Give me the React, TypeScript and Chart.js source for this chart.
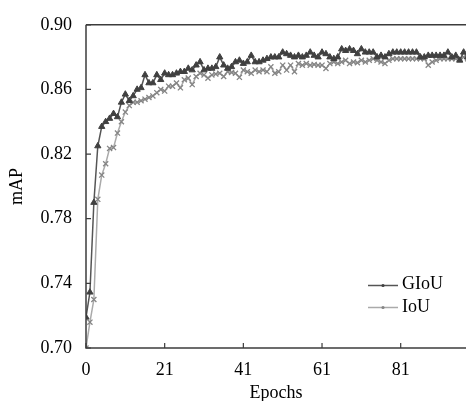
import { useEffect, useRef } from 'react';
import { Chart, registerables } from 'chart.js';

Chart.register(...registerables);

const giou = [
  0.719, 0.7345, 0.790, 0.825, 0.837, 0.840, 0.842, 0.845, 0.843, 0.852,
  0.857, 0.853, 0.856, 0.860, 0.861, 0.869, 0.864, 0.864, 0.869, 0.866,
  0.870, 0.869, 0.869, 0.870, 0.871, 0.871, 0.873, 0.872, 0.875, 0.877,
  0.872, 0.873, 0.873, 0.874, 0.880, 0.875, 0.873, 0.874, 0.877, 0.878,
  0.876, 0.877, 0.881, 0.877, 0.877, 0.878, 0.879, 0.880, 0.880, 0.880,
  0.883, 0.882, 0.881, 0.880, 0.881, 0.880, 0.881, 0.883, 0.881, 0.880,
  0.883, 0.882, 0.880, 0.879, 0.880, 0.885, 0.884, 0.885, 0.884, 0.882,
  0.885, 0.883, 0.883, 0.883, 0.880, 0.881, 0.880, 0.882, 0.883, 0.883,
  0.883, 0.883, 0.883, 0.883, 0.883, 0.880, 0.880, 0.881, 0.881, 0.881,
  0.881, 0.881, 0.883, 0.880, 0.881, 0.878, 0.883, 0.880,
];

const iou = [
  0.700, 0.716, 0.730, 0.792, 0.807, 0.814, 0.8235, 0.824, 0.833, 0.840,
  0.846, 0.850, 0.852, 0.852, 0.853, 0.854, 0.855, 0.856, 0.858, 0.860,
  0.859, 0.862, 0.862, 0.864, 0.861, 0.866, 0.867, 0.863, 0.868, 0.870,
  0.869, 0.867, 0.869, 0.8695, 0.870, 0.868, 0.871, 0.8705, 0.870, 0.8675,
  0.872, 0.871, 0.870, 0.872, 0.871, 0.872, 0.871, 0.874, 0.870, 0.871,
  0.875, 0.872, 0.875, 0.871, 0.876, 0.875, 0.876, 0.875, 0.8755, 0.875,
  0.875, 0.873, 0.876, 0.877, 0.876, 0.877, 0.878, 0.876, 0.877, 0.8765,
  0.878, 0.877, 0.878, 0.879, 0.878, 0.877, 0.876, 0.878, 0.879, 0.879,
  0.879, 0.879, 0.879, 0.879, 0.879, 0.879, 0.879, 0.875, 0.877, 0.878,
  0.879, 0.879, 0.879, 0.879, 0.879, 0.879, 0.880, 0.879,
];

const epochs = giou.map((_, i) => i + 1);

const xTickValues = [1, 21, 41, 61, 81];
const xTickLabels = ['0', '21', '41', '61', '81'];
const yTickValues = [0.70, 0.74, 0.78, 0.82, 0.86, 0.90];

const seriesNames = ['GIoU', 'IoU'];
const FONT = "'Liberation Serif', 'Times New Roman', serif";
const AXIS_COLOR = '#3c3c3c';

const framePlugin = {
  id: 'frame',
  afterDatasetsDraw(chart: any) {
    const { ctx, chartArea } = chart;
    const { left, top, bottom, right } = chartArea;
    const xs = chart.scales.x;
    const ys = chart.scales.y;
    ctx.save();
    ctx.strokeStyle = AXIS_COLOR;
    ctx.lineWidth = 1.5;
    ctx.beginPath();
    ctx.moveTo(left, top);
    ctx.lineTo(right, top);
    ctx.moveTo(left, top);
    ctx.lineTo(left, bottom);
    ctx.lineTo(right, bottom);
    ctx.stroke();
    ctx.lineWidth = 1.2;
    ctx.beginPath();
    xTickValues.forEach((v) => {
      const px = xs.getPixelForValue(v);
      ctx.moveTo(px, bottom);
      ctx.lineTo(px, bottom - 5);
    });
    yTickValues.forEach((v) => {
      const py = ys.getPixelForValue(v);
      ctx.moveTo(left, py);
      ctx.lineTo(left + 5, py);
    });
    ctx.stroke();
    ctx.restore();
  },
  afterDraw(chart: any) {
    const { ctx } = chart;
    const rows = [
      { lineY: 285.5, textY: 288.5 },
      { lineY: 307.5, textY: 312 },
    ];
    ctx.save();
    chart.data.datasets.forEach((ds: any, i: number) => {
      const r = rows[i];
      ctx.strokeStyle = ds.borderColor;
      ctx.lineWidth = 1.5;
      ctx.beginPath();
      ctx.moveTo(368, r.lineY);
      ctx.lineTo(398, r.lineY);
      ctx.stroke();
      ctx.fillStyle = ds.pointBackgroundColor;
      ctx.beginPath();
      ctx.arc(383, r.lineY, 1.6, 0, Math.PI * 2);
      ctx.fill();
      ctx.fillStyle = '#000';
      ctx.font = `18px ${FONT}`;
      ctx.textAlign = 'left';
      ctx.textBaseline = 'alphabetic';
      ctx.fillText(seriesNames[i], 402, r.textY);
    });
    ctx.restore();
  },
};

export default function App() {
  const ref = useRef<HTMLCanvasElement | null>(null);

  useEffect(() => {
    document.body.style.margin = '0';
    const canvas = ref.current;
    if (!canvas) return;
    const chart = new Chart(canvas, {
      type: 'line',
      data: {
        labels: epochs,
        datasets: [
          {
            label: seriesNames[0],
            data: giou,
            borderColor: '#555555',
            backgroundColor: '#404040',
            pointBackgroundColor: '#404040',
            pointBorderColor: '#404040',
            pointStyle: 'triangle',
            pointRadius: 3.6,
            pointBorderWidth: 1,
            borderWidth: 1.5,
            tension: 0,
          },
          {
            label: seriesNames[1],
            data: iou,
            borderColor: '#aaaaaa',
            backgroundColor: '#858585',
            pointBackgroundColor: '#858585',
            pointBorderColor: '#858585',
            pointStyle: 'crossRot',
            pointRadius: 3.6,
            pointBorderWidth: 1.3,
            borderWidth: 1.5,
            tension: 0,
          },
        ],
      },
      options: {
        animation: false,
        responsive: false,
        devicePixelRatio: 1,
        layout: { autoPadding: false, padding: { top: 22, right: 0, left: 0, bottom: 0 } },
        plugins: {
          legend: { display: false },
          tooltip: { enabled: false },
        },
        scales: {
          x: {
            type: 'linear',
            min: 1,
            max: 97.6,
            grid: { display: false, drawTicks: false },
            border: { display: false },
            afterBuildTicks: (scale: any) => {
              scale.ticks = xTickValues.map((v) => ({ value: v }));
            },
            afterFit: (scale: any) => {
              scale.height = 53;
              scale.paddingRight = 0;
            },
            ticks: {
              color: '#000',
              font: { family: FONT, size: 18 },
              padding: 11,
              maxRotation: 0,
              autoSkip: false,
              callback: (v: any) => {
                const idx = xTickValues.indexOf(Number(v));
                return idx >= 0 ? xTickLabels[idx] : '';
              },
            },
            title: {
              display: true,
              text: 'Epochs',
              color: '#000',
              font: { family: FONT, size: 18 },
              padding: { top: 0, bottom: -3 },
            },
          },
          y: {
            type: 'linear',
            min: 0.7,
            max: 0.9,
            grid: { display: false, drawTicks: false },
            border: { display: false },
            afterBuildTicks: (scale: any) => {
              scale.ticks = yTickValues.map((v) => ({ value: v }));
            },
            afterFit: (scale: any) => {
              scale.width = 86;
            },
            ticks: {
              color: '#000',
              font: { family: FONT, size: 18 },
              padding: 14,
              callback: (v: any) => Number(v).toFixed(2),
            },
            title: {
              display: true,
              text: 'mAP',
              color: '#000',
              font: { family: FONT, size: 18 },
              padding: { top: 6, bottom: 0 },
            },
          },
        },
      },
      plugins: [framePlugin],
    } as any);
    return () => chart.destroy();
  }, []);

  return (
    <div style={{ width: 466, height: 401 }}>
      <canvas ref={ref} width={466} height={401} style={{ display: 'block' }} />
    </div>
  );
}
